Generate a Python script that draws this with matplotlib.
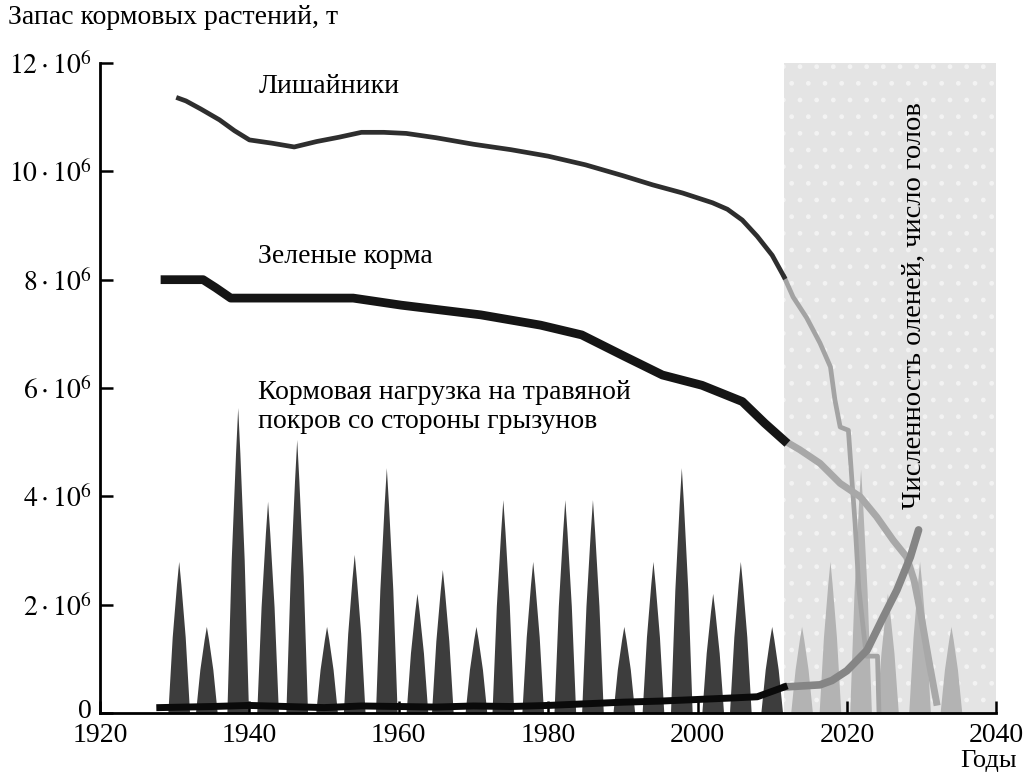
import numpy as np
import matplotlib.pyplot as plt
from matplotlib.transforms import ScaledTranslation

plt.rcParams['font.family'] = ['Liberation Serif', 'DejaVu Serif']
plt.rcParams['mathtext.fontset'] = 'stix'

# lichens (Лишайники), million t
lichen_years = [1930.5, 1931.5, 1933.5, 1936, 1938, 1940, 1943, 1946, 1949, 1952,
                1955, 1958, 1961, 1965, 1970, 1975, 1980, 1985, 1990, 1994,
                1998, 2002, 2004, 2006, 2008, 2010, 2011.6]
lichen_vals = [11.35, 11.3, 11.15, 10.95, 10.75, 10.58, 10.52, 10.45, 10.55, 10.63,
               10.72, 10.72, 10.7, 10.62, 10.5, 10.4, 10.28, 10.12, 9.92, 9.75,
               9.6, 9.42, 9.3, 9.1, 8.8, 8.45, 8.05]
lichen_fut_years = [2011.6, 2012.8, 2014.6, 2016.4, 2017.8, 2018.4, 2019.1, 2020.2,
                    2020.7, 2021.1, 2021.6, 2022.6, 2024.1, 2024.3]
lichen_fut_vals = [8.05, 7.68, 7.3, 6.83, 6.39, 5.78, 5.28, 5.22,
                   4.25, 3.5, 2.3, 1.05, 1.05, 0.0]

# green forage (Зеленые корма)
green_years = [1928.7, 1933.8, 1935.5, 1937.5, 1953.9, 1960.3, 1971, 1979, 1984.5,
               1990, 1995.3, 2000.6, 2006, 2009, 2011.6]
green_vals = [8.0, 8.0, 7.85, 7.66, 7.66, 7.53, 7.35, 7.16, 6.98,
              6.6, 6.24, 6.05, 5.75, 5.35, 5.03]
green_fut_years = [2011.6, 2013.7, 2016.4, 2019.1, 2021.8, 2024, 2026.2, 2028,
                   2029, 2030, 2031, 2032]
green_fut_vals = [5.03, 4.86, 4.61, 4.24, 3.99, 3.62, 3.19, 2.88,
                  2.45, 1.75, 0.95, 0.2]

# reindeer numbers (Численность оленей)
deer_years = [1928, 1935, 1940, 1945, 1950, 1955, 1960, 1965, 1970, 1975, 1980,
              1985, 1990, 1995, 2000, 2005, 2008, 2010, 2011.6]
deer_vals = [0.1, 0.12, 0.14, 0.12, 0.1, 0.13, 0.12, 0.11, 0.13, 0.12, 0.14,
             0.17, 0.2, 0.22, 0.25, 0.28, 0.3, 0.4, 0.48]
deer_fut_years = [2011.6, 2014, 2016.4, 2018, 2020, 2022.7, 2024.9, 2026.7, 2028.5, 2029.6]
deer_fut_vals = [0.48, 0.5, 0.52, 0.6, 0.78, 1.16, 1.78, 2.27, 2.88, 3.38]

# rodent load peaks (Кормовая нагрузка ... грызунов)
rodent_peaks = [1930.6, 1934.3, 1938.5, 1942.5, 1946.4, 1950.4, 1954.1, 1958.4,
                1962.5, 1965.9, 1970.4, 1974.0, 1978.0, 1982.3, 1986.0, 1990.2,
                1994.1, 1997.9, 2002.1, 2005.8, 2010.0]
rodent_heights = [2.79, 1.59, 5.63, 3.9, 5.04, 1.59, 2.92, 4.52,
                  2.2, 2.64, 1.59, 3.93, 2.79, 3.93, 3.93, 1.59,
                  2.79, 4.52, 2.2, 2.79, 1.59]
rodent_fut_peaks = [2014.0, 2017.8, 2021.9, 2025.5, 2029.8, 2034.0]
rodent_fut_heights = [1.59, 2.79, 4.49, 2.2, 2.79, 1.59]

M = 1e6
forecast_start = 2011.6

fig = plt.figure(figsize=(10.26, 7.73), dpi=100)
ax = fig.add_axes([0.0975, 0.0776, 0.8735, 0.8409])

ax.axvspan(forecast_start, 2040, facecolor='#e4e4e4', edgecolor='#f3f3f3',
           hatch='.', linewidth=0, zorder=0)

# spike outline: half-width in years, relative x / y of the shape
hw = 1.45
sx = np.array([-1, -0.6, -0.2, 0, 0.2, 0.6, 1])
sy = np.array([0, 0.5, 0.85, 1, 0.85, 0.5, 0])
for p, h in zip(rodent_peaks, rodent_heights):
    ax.fill(p + sx * hw, sy * h * M, color='#3d3d3d', lw=0, zorder=1)
for p, h in zip(rodent_fut_peaks, rodent_fut_heights):
    ax.fill(p + sx * hw, sy * h * M, color='#b3b3b3', lw=0, zorder=1)

ax.plot(lichen_fut_years, np.array(lichen_fut_vals) * M, color='#a3a3a3', lw=3.4,
        zorder=2)
ax.plot(green_fut_years, np.array(green_fut_vals) * M, color='#a8a8a8', lw=5,
        zorder=2)
ax.plot(deer_fut_years, np.array(deer_fut_vals) * M, color='#858585', lw=5.5,
        zorder=3, solid_capstyle='round')

ax.plot(lichen_years, np.array(lichen_vals) * M, color='#2e2e2e', lw=3.4, zorder=3)
ax.plot(green_years, np.array(green_vals) * M, color='#151515', lw=6.3, zorder=3)
ax.plot(deer_years, np.array(deer_vals) * M, color='#0a0a0a', lw=5, zorder=3)

ax.set_xlim(1920, 2040)
ax.set_ylim(0, 12 * M)
ax.set_xticks(range(1920, 2041, 20))
yt = list(range(0, 13, 2))
ax.set_yticks([v * M for v in yt])
ax.set_yticklabels(['0'] + [r'$%d\cdot10^{6}$' % v for v in yt[1:]])

for s in ['top', 'right']:
    ax.spines[s].set_visible(False)
for s in ['left', 'bottom']:
    ax.spines[s].set_linewidth(2)
ax.tick_params(direction='in', length=9, width=1.8, labelsize=20)
ax.tick_params(axis='y', pad=6)
ax.tick_params(axis='x', pad=7)
zero = ax.get_yticklabels()[0]
zero.set_verticalalignment('bottom')
zero.set_transform(zero.get_transform() + ScaledTranslation(0, -8 / 72, fig.dpi_scale_trans))

ax.text(1941.2, 11.56 * M, 'Лишайники', fontsize=20, va='center')
ax.text(1941.2, 8.42 * M, 'Зеленые корма', fontsize=20, va='center')
ax.text(1941.2, 5.65 * M, 'Кормовая нагрузка на травяной\nпокров со стороны грызунов',
        fontsize=20, va='center', linespacing=1.2)
ax.text(2029.1, 7.53 * M, 'Численность оленей, число голов', fontsize=20.5,
        rotation=90, ha='center', va='center')

fig.text(0.008, 0.977, 'Запас кормовых растений, т', fontsize=20, va='center')
fig.text(0.963, 0.016, 'Годы', fontsize=19, ha='center', va='center')

fig.savefig('out.png', dpi=100)
